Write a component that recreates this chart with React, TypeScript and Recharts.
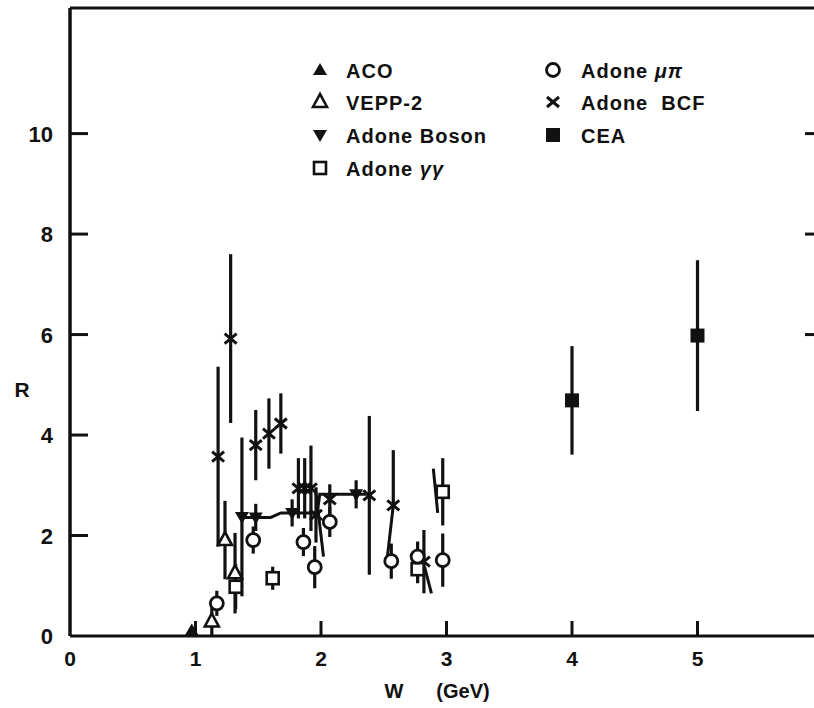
import React from "react";
import { ComposedChart, Scatter, Line, XAxis, YAxis, ErrorBar } from "recharts";

const xTicks = [0, 1, 2, 3, 4, 5];
const yTicks = [0, 2, 4, 6, 8, 10];
const topTicks = [1, 2, 3, 4, 5];
const rightTicks = [6, 8, 10];

const aco = [{ W: 0.97, R: 0.11, err: 0 }];
const vepp2 = [
  { W: 1.13, R: 0.29, err: 0.29 },
  { W: 1.235, R: 1.91, err: 0.78 },
  { W: 1.315, R: 1.25, err: 0.8 },
];
const adoneBoson = [
  { W: 1.37, R: 2.37, err: 1.58 },
  { W: 1.48, R: 2.36, err: 0.27 },
  { W: 1.77, R: 2.45, err: 0.27 },
  { W: 2.28, R: 2.82, err: 0.28 },
];
const adoneGG = [
  { W: 1.32, R: 0.98, err: 0.45 },
  { W: 1.615, R: 1.15, err: 0.23 },
  { W: 2.77, R: 1.33, err: 0.28 },
  { W: 2.97, R: 2.87, err: 0.67 },
];
const adoneMuPi = [
  { W: 1.17, R: 0.65, err: 0.25 },
  { W: 1.46, R: 1.91, err: 0.27 },
  { W: 1.86, R: 1.87, err: 0.28 },
  { W: 1.95, R: 1.37, err: 0.42 },
  { W: 2.07, R: 2.27, err: 0.3 },
  { W: 2.56, R: 1.49, err: 0.35 },
  { W: 2.77, R: 1.58, err: 0.3 },
  { W: 2.97, R: 1.51, err: 0.53 },
];
const adoneBCF = [
  { W: 1.18, R: 3.57, err: 1.79 },
  { W: 1.28, R: 5.92, err: 1.68 },
  { W: 1.48, R: 3.8, err: 0.7 },
  { W: 1.585, R: 4.03, err: 0.7 },
  { W: 1.68, R: 4.23, err: 0.6 },
  { W: 1.82, R: 2.94, err: 0.6 },
  { W: 1.87, R: 2.94, err: 0.6 },
  { W: 1.92, R: 2.94, err: 0.85 },
  { W: 1.96, R: 2.41, err: 0.55 },
  { W: 2.07, R: 2.72, err: 0.3 },
  { W: 2.385, R: 2.8, err: 1.58 },
  { W: 2.576, R: 2.6, err: [0, 1.1] },
  { W: 2.82, R: 1.48, err: 0.63 },
];
const cea = [
  { W: 4.0, R: 4.69, err: 1.08 },
  { W: 5.0, R: 5.98, err: 1.5 },
];
const bosonCurve = [
  { W: 1.37, R: 2.36 },
  { W: 1.6, R: 2.36 },
  { W: 1.68, R: 2.45 },
  { W: 1.97, R: 2.45 },
  { W: 1.99, R: 2.82 },
  { W: 2.4, R: 2.82 },
];
const slantA = [{ W: 1.96, R: 2.84 }, { W: 2.02, R: 1.58 }];
const slantB = [{ W: 2.576, R: 2.6 }, { W: 2.53, R: 1.6 }];
const slantC = [{ W: 2.825, R: 1.38 }, { W: 2.88, R: 0.85 }];
const slantD = [{ W: 2.895, R: 3.33 }, { W: 2.93, R: 2.45 }];
const slants = [slantA, slantB, slantC, slantD];

const FONT = "'Liberation Sans', Arial, Helvetica, sans-serif";
const INK = "#111";

const FilledTri = (p: any) => (
  <polygon points={`${p.cx},${p.cy - 7} ${p.cx - 7},${p.cy + 5} ${p.cx + 7},${p.cy + 5}`} fill={INK} />
);
const OpenTri = (p: any) => (
  <polygon points={`${p.cx},${p.cy - 8} ${p.cx - 7},${p.cy + 5} ${p.cx + 7},${p.cy + 5}`} fill="#fff" stroke={INK} strokeWidth={2.6} />
);
const DownTri = (p: any) => (
  <polygon points={`${p.cx - 7},${p.cy - 5} ${p.cx + 7},${p.cy - 5} ${p.cx},${p.cy + 7}`} fill={INK} />
);
const OpenSquare = (p: any) => (
  <rect x={p.cx - 6} y={p.cy - 6} width={12} height={12} fill="#fff" stroke={INK} strokeWidth={2.6} />
);
const OpenCircle = (p: any) => (
  <circle cx={p.cx} cy={p.cy} r={6.5} fill="#fff" stroke={INK} strokeWidth={2.8} />
);
const Cross = (p: any) => (
  <g stroke={INK} strokeWidth={3}>
    <line x1={p.cx - 6} y1={p.cy - 5} x2={p.cx + 6} y2={p.cy + 5} />
    <line x1={p.cx - 6} y1={p.cy + 5} x2={p.cx + 6} y2={p.cy - 5} />
  </g>
);
const FilledSquare = (p: any) => (
  <rect x={p.cx - 7} y={p.cy - 7} width={14} height={14} fill={INK} />
);

const BottomTick = (p: any) => {
  const v = p.payload.value;
  return (
    <g>
      {v !== 0 && <line x1={p.x} y1={p.y} x2={p.x} y2={p.y - 15} stroke={INK} strokeWidth={3} />}
      <text x={p.x} y={p.y + 30} textAnchor="middle" fontFamily={FONT} fontWeight="bold" fontSize={21} fill={INK}>
        {v}
      </text>
    </g>
  );
};
const LeftTick = (p: any) => {
  const v = p.payload.value;
  return (
    <g>
      {v !== 0 && <line x1={p.x} y1={p.y} x2={p.x + 18} y2={p.y} stroke={INK} strokeWidth={3} />}
      <text x={p.x - 17} y={p.y + 8} textAnchor="end" fontFamily={FONT} fontWeight="bold" fontSize={22} fill={INK}>
        {v}
      </text>
    </g>
  );
};
const TopTick = (p: any) => (
  <line x1={p.x} y1={p.y} x2={p.x} y2={p.y + 15} stroke={INK} strokeWidth={3} />
);
const RightTick = (p: any) => (
  <line x1={p.x} y1={p.y} x2={p.x - 18} y2={p.y} stroke={INK} strokeWidth={3} />
);

const legendLeft = [
  { label: "ACO", marker: FilledTri, y: 70 },
  { label: "VEPP-2", marker: OpenTri, y: 102 },
  { label: "Adone Boson", marker: DownTri, y: 135 },
  { label: "Adone ", italic: "γγ", marker: OpenSquare, y: 168 },
];
const legendRight = [
  { label: "Adone ", italic: "μπ", marker: OpenCircle, y: 70 },
  { label: "Adone  BCF", marker: Cross, y: 102 },
  { label: "CEA", marker: FilledSquare, y: 135 },
];

const LegendCol = ({ items, mx, tx }: any) => (
  <g>
    {items.map((it: any) => {
      const M = it.marker;
      return (
        <g key={it.label + (it.italic || "")}>
          <M cx={mx} cy={it.y} />
          <text x={tx} y={it.y + 8} fontFamily={FONT} fontWeight="bold" fontSize={20} letterSpacing={1} fill={INK} style={{ whiteSpace: "pre" }}>
            {it.label}
            {it.italic && <tspan fontStyle="italic">{it.italic}</tspan>}
          </text>
        </g>
      );
    })}
  </g>
);

const axisLine = { stroke: INK, strokeWidth: 3 };

export default function App() {
  return (
    <div style={{ position: "absolute", left: 0, top: 0, width: 814, height: 708, overflow: "hidden", background: "#fff" }}>
      <ComposedChart width={840} height={708} margin={{ top: 0, right: 0, bottom: 0, left: 0 }}>
        <XAxis xAxisId={0} dataKey="W" type="number" domain={[0, 6]} ticks={xTicks} interval={0} height={72}
          tickSize={0} tickMargin={0} tickLine={false} tick={<BottomTick />} axisLine={axisLine} allowDataOverflow />
        <XAxis xAxisId="top" orientation="top" type="number" domain={[0, 6]} ticks={topTicks} interval={0} height={8}
          tickSize={0} tickMargin={0} tickLine={false} tick={<TopTick />} axisLine={axisLine} allowDataOverflow />
        <YAxis yAxisId={0} dataKey="R" type="number" domain={[0, 12.5]} ticks={yTicks} interval={0} width={70}
          tickSize={0} tickMargin={0} tickLine={false} tick={<LeftTick />} axisLine={{ stroke: INK, strokeWidth: 3.5 }} allowDataOverflow />
        <YAxis yAxisId="right" orientation="right" type="number" domain={[0, 12.5]} ticks={rightTicks} interval={0} width={17}
          tickSize={0} tickMargin={0} tickLine={false} tick={<RightTick />} axisLine={axisLine} allowDataOverflow />

        <Line data={bosonCurve} dataKey="R" stroke={INK} strokeWidth={3} dot={false} isAnimationActive={false} />
        {slants.map((s, i) => (
          <Line key={"s" + i} data={s} dataKey="R" stroke={INK} strokeWidth={3} dot={false} isAnimationActive={false} />
        ))}

        <Scatter name="ACO" data={aco} shape={FilledTri} isAnimationActive={false} />
        <Scatter name="VEPP-2" data={vepp2} shape={OpenTri} isAnimationActive={false}>
          <ErrorBar dataKey="err" direction="y" width={0} stroke={INK} strokeWidth={3.2} />
        </Scatter>
        <Scatter name="Adone BCF" data={adoneBCF} shape={Cross} isAnimationActive={false}>
          <ErrorBar dataKey="err" direction="y" width={0} stroke={INK} strokeWidth={3.2} />
        </Scatter>
        <Scatter name="Adone Boson" data={adoneBoson} shape={DownTri} isAnimationActive={false}>
          <ErrorBar dataKey="err" direction="y" width={0} stroke={INK} strokeWidth={3.2} />
        </Scatter>
        <Scatter name="Adone γγ" data={adoneGG} shape={OpenSquare} isAnimationActive={false}>
          <ErrorBar dataKey="err" direction="y" width={0} stroke={INK} strokeWidth={3.2} />
        </Scatter>
        <Scatter name="Adone μπ" data={adoneMuPi} shape={OpenCircle} isAnimationActive={false}>
          <ErrorBar dataKey="err" direction="y" width={0} stroke={INK} strokeWidth={3.2} />
        </Scatter>
        <Scatter name="CEA" data={cea} shape={FilledSquare} isAnimationActive={false}>
          <ErrorBar dataKey="err" direction="y" width={0} stroke={INK} strokeWidth={3.2} />
        </Scatter>
      </ComposedChart>
      <svg width={814} height={708} style={{ position: "absolute", left: 0, top: 0, pointerEvents: "none" }}>
        <LegendCol items={legendLeft} mx={320} tx={346} />
        <LegendCol items={legendRight} mx={553} tx={581} />
        <text x={22} y={397} textAnchor="middle" fontFamily={FONT} fontWeight="bold" fontSize={21} fill={INK}>R</text>
        <text x={394} y={698} textAnchor="middle" fontFamily={FONT} fontWeight="bold" fontSize={20} fill={INK}>W</text>
        <text x={463} y={698} textAnchor="middle" fontFamily={FONT} fontWeight="bold" fontSize={20} fill={INK}>(GeV)</text>
      </svg>
    </div>
  );
}
